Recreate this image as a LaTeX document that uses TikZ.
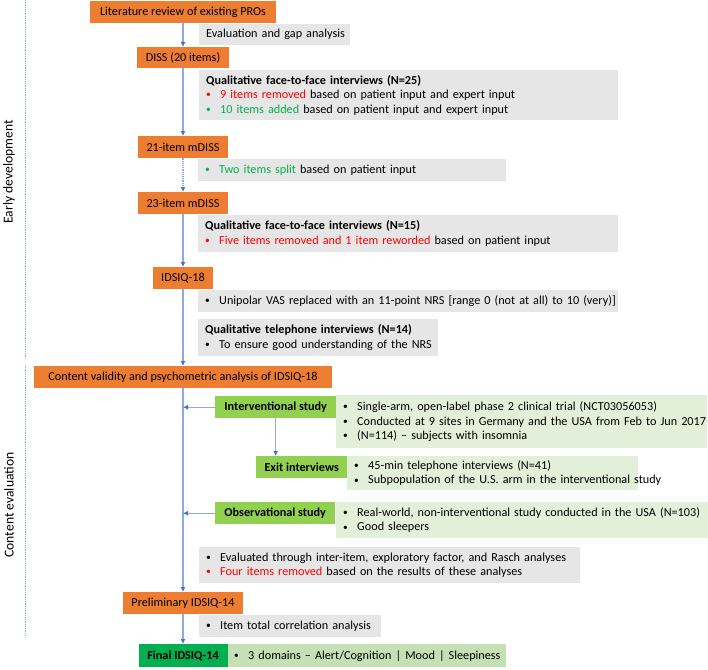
\documentclass[tikz,border=0pt]{standalone}
\usepackage{fontspec}
\setmainfont{Carlito}
\usetikzlibrary{arrows.meta}

\definecolor{stageorange}{HTML}{ED7D31}
\definecolor{notegrey}{HTML}{E7E6E6}
\definecolor{studygreen}{HTML}{92D050}
\definecolor{detailgreen}{HTML}{E2F0D9}
\definecolor{finalgreen}{HTML}{00B050}
\definecolor{finallight}{HTML}{C5E0B4}
\definecolor{lineblue}{HTML}{8FAADC}
\definecolor{tipblue}{HTML}{4472C4}
\definecolor{itemred}{HTML}{FF0000}
\definecolor{itemgreen}{HTML}{00B050}
% one bullet line, kept on one line
\newcommand{\bul}[2][black]{\mbox{\textcolor{#1}{\makebox[14pt][l]{\raisebox{0.8pt}{\fontsize{9.5}{9.5}\selectfont •}}}#2}}

\begin{document}
\begin{tikzpicture}[x=1pt,y=-1pt,
  every node/.style={font=\fontsize{12.2}{14.5}\selectfont, inner sep=0pt},
  stage/.style={fill=stageorange, anchor=north, minimum height=22pt},
  note/.style={fill=notegrey, anchor=north west, align=left, inner xsep=7pt},
  study/.style={fill=studygreen, anchor=north west, minimum height=22pt,
    font=\fontsize{12.2}{14.5}\selectfont\bfseries},
  detail/.style={fill=detailgreen, anchor=north west, align=left, inner xsep=7pt},
  flow/.style={draw=lineblue, line width=1.2pt, -{Latex[length=5pt,width=5pt,color=tipblue]}},
  phase/.style={draw=lineblue, densely dotted, line width=0.8pt},
  phaselabel/.style={rotate=90, font=\fontsize{13.6}{16}\selectfont}
]
\useasboundingbox (0,0) rectangle (708,669);

% phases on the left
\draw[phase] (25.5,0) -- (25.5,357);
\draw[phase] (25.5,365) -- (25.5,636);
\node[phaselabel] (early) at (9,172) {Early development};
\node[phaselabel] (content) at (9,505) {Content evaluation};

% early development
\node[stage, minimum width=186pt] (lit) at (183,1) {Literature review of existing PROs};
\node[note, text width=137pt, minimum height=21pt] (gap) at (199,24) {\mbox{Evaluation and gap analysis}};
\node[stage, minimum width=92pt, minimum height=21pt] (diss) at (183,47) {DISS (20 items)};
\node[note, text width=405pt, minimum height=50pt] (ftf25) at (199,70)
  {\textbf{Qualitative face-to-face interviews (N=25)}\\
   \bul[itemred]{\textcolor{itemred}{9 items removed} based on patient input and expert input}\\
   \bul[itemgreen]{\textcolor{itemgreen}{10 items added} based on patient input and expert input}};
\node[stage, minimum width=90pt] (m21) at (183,136) {21-item mDISS};
\node[note, text width=294pt, minimum height=22pt] (split) at (198,159)
  {\bul[itemgreen]{\textcolor{itemgreen}{Two items split} based on patient input}};
\node[stage, minimum width=90pt] (m23) at (183,192) {23-item mDISS};
\node[note, text width=406pt, minimum height=37pt] (ftf15) at (198,215)
  {\textbf{Qualitative face-to-face interviews (N=15)}\\
   \bul[itemred]{\textcolor{itemred}{Five items removed and 1 item reworded} based on patient input}};
\node[stage, minimum width=60pt] (i18) at (183,267) {IDSIQ-18};
\node[note, text width=406pt, minimum height=22pt] (vas) at (198,290)
  {\bul{Unipolar VAS replaced with an 11-point NRS [range 0 (not at all) to 10 (very)]}};
\node[note, text width=226pt, minimum height=37pt] (tel) at (198,319)
  {\textbf{Qualitative telephone interviews (N=14)}\\
   \bul{To ensure good understanding of the NRS}};

% content evaluation
\node[stage, minimum width=298pt] (cv) at (183,366) {Content validity and psychometric analysis of IDSIQ-18};
\node[detail, text width=357pt, minimum height=53pt] (intvd) at (336,395)
  {\bul{Single-arm, open-label phase 2 clinical trial (NCT03056053)}\\
   \bul{Conducted at 9 sites in Germany and the USA from Feb to Jun 2017}\\
   \bul{(N=114) – subjects with insomnia}};
\node[study, minimum width=121pt] (intv) at (215,396) {Interventional study};
\node[detail, text width=277pt, minimum height=34pt] (exitd) at (347,456)
  {\bul{45-min telephone interviews (N=41)}\\
   \bul{Subpopulation of the U.S. arm in the interventional study}};
\node[study, minimum width=91pt] (exit) at (256,456) {Exit interviews};
\node[detail, text width=358pt, minimum height=36pt] (obsd) at (336,502)
  {\bul{Real-world, non-interventional study conducted in the USA (N=103)}\\
   \bul{Good sleepers}};
\node[study, minimum width=120pt] (obs) at (215,502) {Observational study};
\node[note, text width=367pt, minimum height=36pt] (rasch) at (199,547)
  {\bul{Evaluated through inter-item, exploratory factor, and Rasch analyses}\\
   \bul[itemred]{\textcolor{itemred}{Four items removed} based on the results of these analyses}};
\node[stage, minimum width=120pt] (p14) at (183,592) {Preliminary IDSIQ-14};
\node[note, text width=168pt, minimum height=22pt] (itc) at (199,615) {\bul{Item total correlation analysis}};
\node[detail, fill=finallight, text width=265pt, minimum height=23pt] (f14d) at (227,644)
  {\bul{3 domains – Alert/Cognition | Mood | Sleepiness}};
\node[stage, fill=finalgreen, minimum width=89pt, minimum height=23pt,
  font=\fontsize{12.2}{14.5}\selectfont\bfseries] (f14) at (183,644) {Final IDSIQ-14};

% connectors
\draw[flow] (lit.south) -- (diss.north);
\draw[flow] (diss.south) -- (m21.north);
\draw[flow, densely dotted] (m21.south) -- (m23.north);
\draw[flow] (m23.south) -- (i18.north);
\draw[flow] (i18.south) -- (cv.north);
\draw[flow] (cv.south) -- (p14.north);
\draw[flow] (p14.south) -- (f14.north);
\draw[flow] (intv.west) -- (intv.west -| cv.south);
\draw[flow] (obs.west) -- (obs.west -| cv.south);
\draw[flow] (intv.south) -- (intv.south |- exit.north);
\end{tikzpicture}
\end{document}
